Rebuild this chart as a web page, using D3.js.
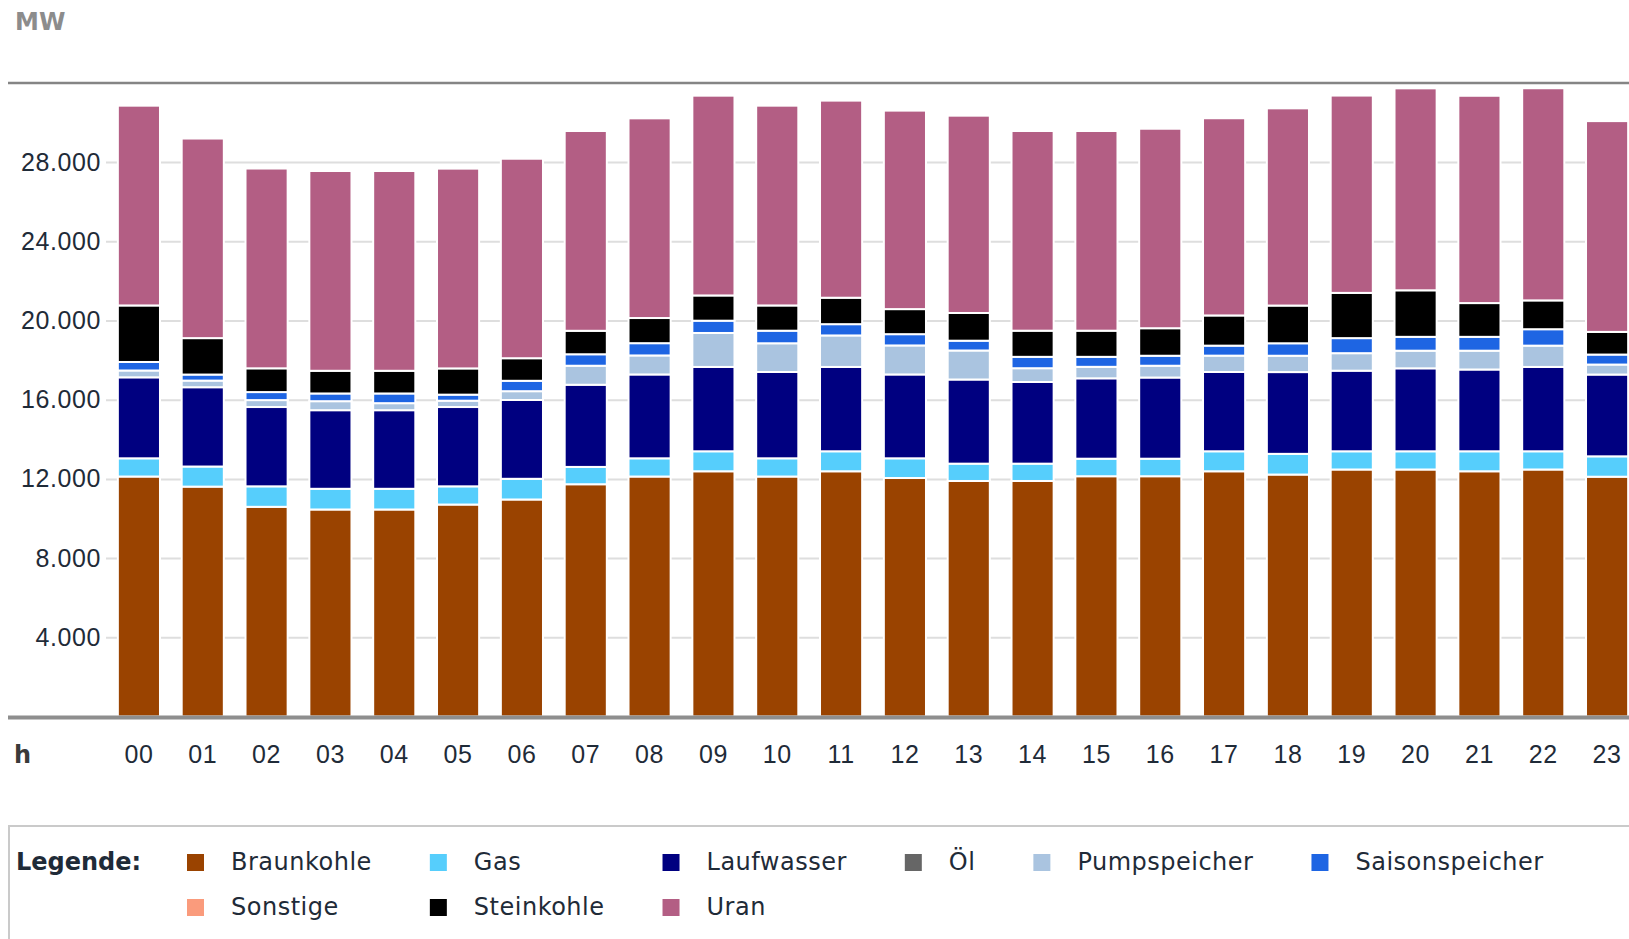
<!DOCTYPE html>
<html>
<head>
<meta charset="utf-8">
<script src="https://cdn.jsdelivr.net/npm/d3@7"></script>
<style>
  body { margin: 0; background: #fff; }
  svg { display: block; font-family: "DejaVu Sans", Verdana, sans-serif; }
  .y.axis .domain { display: none; }
  .y.axis line { stroke: #dedede; stroke-width: 2; }
  .axis text { font-size: 25px; fill: #1f2b38; letter-spacing: 0.6px; }
</style>
</head>
<body>
<svg id="chart" width="1629" height="939"></svg>
<script>
(function () {
  const hours = ['00', '01', '02', '03', '04', '05', '06', '07', '08', '09', '10', '11',
    '12', '13', '14', '15', '16', '17', '18', '19', '20', '21', '22', '23'];

  const series = ['Braunkohle', 'Gas', 'Laufwasser', 'Öl', 'Pumpspeicher',
    'Saisonspeicher', 'Sonstige', 'Steinkohle', 'Uran'];
  const colors = ['#9a4300', '#56cefc', '#000080', '#666666', '#aac4e0',
    '#1e65e3', '#fa9b7c', '#000000', '#b35e84'];

  // MW per hour
  const braunkohle = [12120, 11610, 10590, 10455, 10455, 10705, 10960, 11730, 12120, 12385, 12120, 12385,
    12045, 11895, 11895, 12135, 12135, 12385, 12220, 12475, 12475, 12385, 12475, 12110];
  const gas = [920, 1015, 1035, 1045, 1045, 920, 1045, 875, 920, 1010, 920, 1010,
    995, 875, 875, 885, 885, 1010, 1045, 920, 920, 1010, 920, 1030];
  const laufwasser = [4090, 4005, 4005, 3970, 3970, 4005, 3980, 4150, 4235, 4260, 4360, 4260,
    4235, 4250, 4125, 4060, 4100, 4005, 4130, 4070, 4190, 4130, 4260, 4130];
  const oel = [0, 0, 0, 0, 0, 0, 0, 0, 0, 0, 0, 0,
    0, 0, 0, 0, 0, 0, 0, 0, 0, 0, 0, 0];
  const pumpspeicher = [345, 335, 350, 455, 355, 320, 445, 960, 960, 1715, 1450, 1590,
    1465, 1465, 695, 580, 595, 825, 825, 885, 890, 950, 1075, 505];
  const saisonspeicher = [430, 305, 405, 390, 490, 305, 525, 580, 620, 620, 635, 570,
    570, 495, 575, 505, 505, 505, 630, 760, 700, 700, 830, 505];
  const sonstige = [0, 0, 0, 0, 0, 0, 0, 0, 0, 0, 0, 0,
    0, 0, 0, 0, 0, 0, 0, 0, 0, 0, 0, 0];
  const steinkohle = [2855, 1840, 1200, 1145, 1145, 1325, 1140, 1185, 1270, 1275, 1275, 1335,
    1265, 1400, 1320, 1320, 1390, 1525, 1905, 2285, 2350, 1705, 1455, 1145];
  const uran = [10090, 10080, 10090, 10090, 10090, 10090, 10075, 10090, 10085, 10090, 10090, 9955,
    10025, 9965, 10085, 10085, 10075, 9960, 9960, 9965, 10200, 10470, 10715, 10645];

  const yTicks = [4000, 8000, 12000, 16000, 20000, 24000, 28000];

  const columns = [braunkohle, gas, laufwasser, oel, pumpspeicher, saisonspeicher, sonstige, steinkohle, uran];
  const rows = hours.map((h, i) => {
    const row = { hour: h };
    series.forEach((s, k) => { row[s] = columns[k][i]; });
    return row;
  });

  const de = d3.formatLocale({ decimal: ',', thousands: '.', grouping: [3], currency: ['', ' €'] });
  const fmt = de.format(',');

  const width = 1629;
  const svg = d3.select('#chart');

  const x = d3.scaleBand().domain(hours).range([107, 1639]).paddingInner(0.34).paddingOuter(0.17);
  const y = d3.scaleLinear().domain([0, 32000]).range([716.5, 82.9]);
  const color = d3.scaleOrdinal().domain(series).range(colors);

  // gridlines + labels
  svg.append('g')
    .attr('class', 'y axis')
    .attr('transform', 'translate(106,0)')
    .call(d3.axisLeft(y).tickValues(yTicks).tickSize(-(width - 106)).tickPadding(5).tickFormat(fmt));

  // stacked bars
  const stacked = d3.stack().keys(series)(rows);

  svg.append('g').selectAll('g')
    .data(stacked)
    .join('g')
    .attr('fill', d => color(d.key))
    .selectAll('rect')
    .data(d => d.filter(p => p[1] - p[0] > 0))
    .join('rect')
    .attr('x', d => x(d.data.hour))
    .attr('y', d => y(d[1]))
    .attr('width', x.bandwidth())
    .attr('height', d => y(d[0]) - y(d[1]))
    .attr('stroke', '#fff')
    .attr('stroke-width', 2);

  // top border and base line
  svg.append('line')
    .attr('x1', 8).attr('x2', width)
    .attr('y1', y(32000)).attr('y2', y(32000))
    .attr('stroke', '#858585').attr('stroke-width', 2.5);

  svg.append('line')
    .attr('x1', 8).attr('x2', width)
    .attr('y1', y(0) + 1).attr('y2', y(0) + 1)
    .attr('stroke', '#8e8e8e').attr('stroke-width', 4);

  // hour labels
  const xAxis = svg.append('g')
    .attr('class', 'x axis')
    .attr('transform', `translate(0, ${y(0)})`)
    .call(d3.axisBottom(x).tickSize(0).tickPadding(29));
  xAxis.select('.domain').remove();

  svg.append('text')
    .attr('x', 14).attr('y', y(0) + 46)
    .attr('font-size', 24).attr('font-weight', 'bold').attr('fill', '#3a3a3a')
    .text('h');

  svg.append('text')
    .attr('x', 15).attr('y', 30)
    .attr('font-size', 24).attr('font-weight', 'bold').attr('fill', '#8c8c8c')
    .text('MW');

  // legend
  const legend = svg.append('g').attr('class', 'legend');
  legend.append('rect')
    .attr('x', 9).attr('y', 826)
    .attr('width', 1700).attr('height', 200)
    .attr('fill', 'none').attr('stroke', '#cacaca').attr('stroke-width', 2);

  legend.append('text')
    .attr('x', 16).attr('y', 870)
    .attr('font-size', 24).attr('font-weight', 'bold').attr('fill', '#1f2b38')
    .text('Legende:');

  const perRow = 6;
  const items = legend.selectAll('g.item')
    .data(series)
    .join('g')
    .attr('class', 'item');

  items.append('rect')
    .attr('width', 17).attr('height', 17)
    .attr('y', -16)
    .attr('fill', d => color(d));

  items.append('text')
    .attr('x', 44)
    .attr('font-size', 24).attr('fill', '#1f2b38')
    .style('letter-spacing', '0.5px')
    .text(d => d);

  // column widths follow the widest label in each column
  const textW = [];
  items.select('text').each(function (d, i) { textW[i] = this.getComputedTextLength(); });
  const colX = [];
  let cx = 187;
  for (let c = 0; c < perRow; c++) {
    colX.push(cx);
    const w = d3.max(series.map((s, i) => (i % perRow === c ? textW[i] : 0)));
    cx += 44 + w + 58;
  }
  items.attr('transform', (d, i) => `translate(${colX[i % perRow]}, ${870 + Math.floor(i / perRow) * 45})`);
})();
</script>
</body>
</html>
